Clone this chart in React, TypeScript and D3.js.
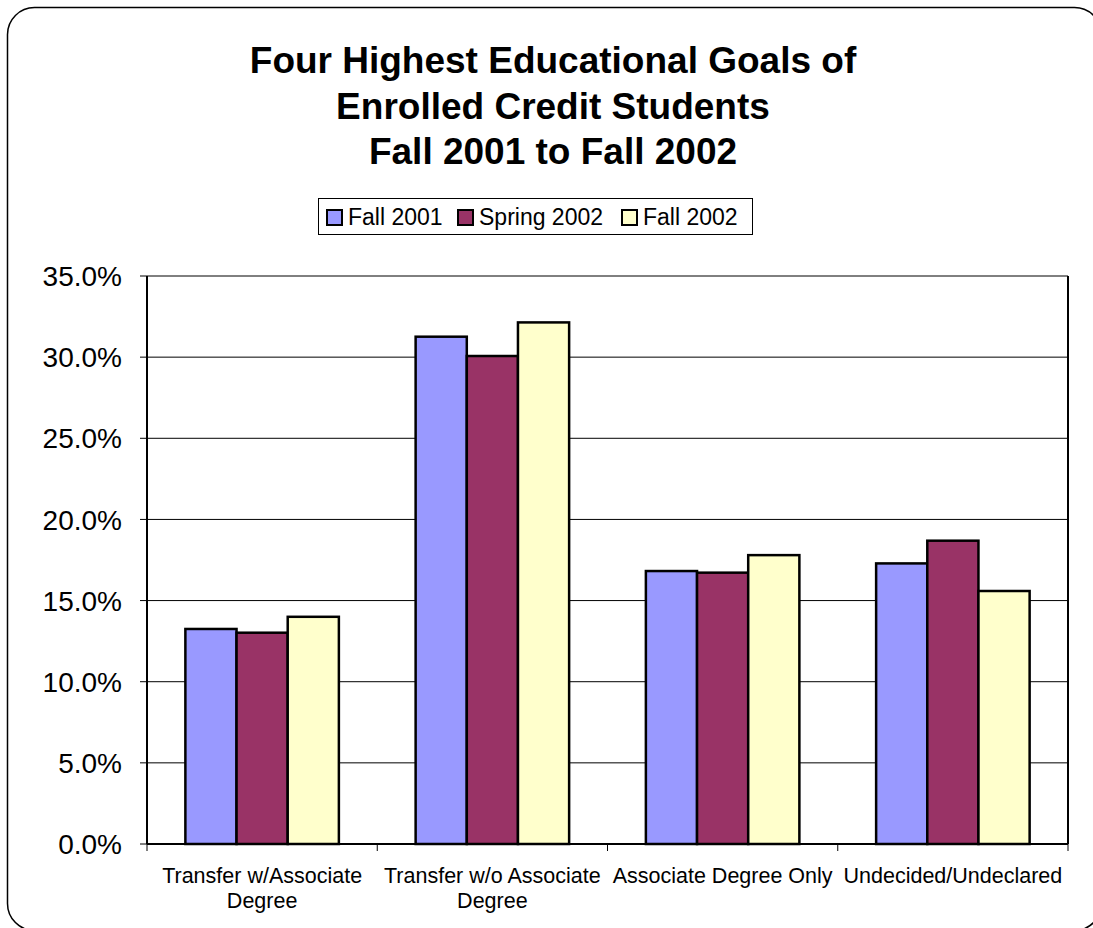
import React from "react";
import * as d3 from "d3";

const titleLines = ["Four Highest Educational Goals of", "Enrolled Credit Students", "Fall 2001 to Fall 2002"];
const categories = [
  "Transfer w/Associate Degree",
  "Transfer w/o Associate Degree",
  "Associate Degree Only",
  "Undecided/Undeclared",
];
const seriesNames = ["Fall 2001", "Spring 2002", "Fall 2002"];
const seriesColors = ["#9999FF", "#993366", "#FFFFCC"];
const fall2001 = [0.1325, 0.3126, 0.1682, 0.1729];
const spring2002 = [0.1302, 0.3007, 0.1672, 0.1869];
const fall2002 = [0.1400, 0.3214, 0.1780, 0.1559];
const seriesValues = [fall2001, spring2002, fall2002];
const yTicks = [0, 0.05, 0.1, 0.15, 0.2, 0.25, 0.3, 0.35];

const W = 1093;
const H = 928;
const FONT = "Liberation Sans, Arial, sans-serif";

function wrap(text: string, maxW: number, font: string): string[] {
  const c = document.createElement("canvas").getContext("2d");
  const measure = (s: string) => {
    if (!c) return s.length * 10;
    c.font = font;
    return c.measureText(s).width;
  };
  const words = text.split(" ");
  const lines: string[] = [];
  let cur = "";
  for (const w of words) {
    const t = cur ? cur + " " + w : w;
    if (measure(t) > maxW && cur) {
      lines.push(cur);
      cur = w;
    } else cur = t;
  }
  if (cur) lines.push(cur);
  return lines;
}

export default function App() {
  const left = 147, right = 1068, top = 276, bottom = 844;
  const x = d3.scaleBand<string>().domain(categories).range([left, right]).paddingInner(0).paddingOuter(0);
  const xs = d3.scaleBand<string>().domain(seriesNames).range([0, x.bandwidth()]).paddingInner(0).paddingOuter(0.75);
  const y = d3.scaleLinear().domain([0, 0.35]).range([bottom, top]);
  const fmt = d3.format(".1f");
  const labelFontSize = 21.5;
  const xLabelFont = `${labelFontSize}px ${FONT}`;

  const legendItems = [
    { sx: 327, tx: 348 },
    { sx: 458, tx: 479 },
    { sx: 622, tx: 643 },
  ];

  return (
    <svg width={W} height={H} style={{ position: "fixed", left: 0, top: 0, background: "#fff" }} fontFamily={FONT}>
      <rect x={7.5} y={7.5} width={1094} height={923} rx={27} ry={27} fill="#fff" stroke="#000" strokeWidth={1.5} />
      {titleLines.map((t, i) => (
        <text key={i} x={553} y={73 + i * 45.5} textAnchor="middle" fontWeight="bold" fontSize={37} fill="#000">
          {t}
        </text>
      ))}
      {/* legend */}
      <rect x={318.5} y={198.5} width={434} height={36} fill="#fff" stroke="#000" strokeWidth={1} />
      {seriesNames.map((s, i) => (
        <g key={s}>
          <rect x={legendItems[i].sx} y={210} width={15} height={15} fill={seriesColors[i]} stroke="#000" strokeWidth={2} />
          <text x={legendItems[i].tx} y={225} fontSize={23} fill="#000">{s}</text>
        </g>
      ))}
      {/* gridlines */}
      {yTicks.map((t) => (
        <g key={t}>
          {t > 0 && <line x1={left} x2={right} y1={y(t)} y2={y(t)} stroke="#000" strokeWidth={1} />}
          <line x1={left - 7} x2={left} y1={y(t)} y2={y(t)} stroke="#000" strokeWidth={1} />
          <text x={122} y={y(t)} dy="0.36em" textAnchor="end" fontSize={28} fill="#000">
            {fmt(t * 100)}%
          </text>
        </g>
      ))}
      {/* bars */}
      {categories.map((c, ci) => (
        <g key={c}>
          {seriesNames.map((s, si) => {
            const v = seriesValues[si][ci];
            const bx = (x(c) ?? 0) + (xs(s) ?? 0);
            return (
              <rect key={s} x={bx} y={y(v)} width={xs.bandwidth()} height={y(0) - y(v)} fill={seriesColors[si]} stroke="#000" strokeWidth={2.5} />
            );
          })}
        </g>
      ))}
      {/* axes */}
      <line x1={left} x2={left} y1={top} y2={bottom} stroke="#000" strokeWidth={2} />
      <line x1={right} x2={right} y1={top} y2={bottom} stroke="#000" strokeWidth={2} />
      <line x1={left} x2={right} y1={bottom} y2={bottom} stroke="#000" strokeWidth={2} />
      {categories.map((c, i) => (
        <line key={"t" + i} x1={x(c) ?? 0} x2={x(c) ?? 0} y1={bottom} y2={bottom + 7} stroke="#000" strokeWidth={1} />
      ))}
      <line x1={right} x2={right} y1={bottom} y2={bottom + 7} stroke="#000" strokeWidth={1} />
      {categories.map((c) => {
        const lines = wrap(c, x.bandwidth() - 4, xLabelFont);
        const cx = (x(c) ?? 0) + x.bandwidth() / 2;
        return (
          <text key={"l" + c} x={cx} y={883} textAnchor="middle" fontSize={labelFontSize} fill="#000">
            {lines.map((l, li) => (
              <tspan key={li} x={cx} dy={li === 0 ? 0 : 25}>{l}</tspan>
            ))}
          </text>
        );
      })}
    </svg>
  );
}
